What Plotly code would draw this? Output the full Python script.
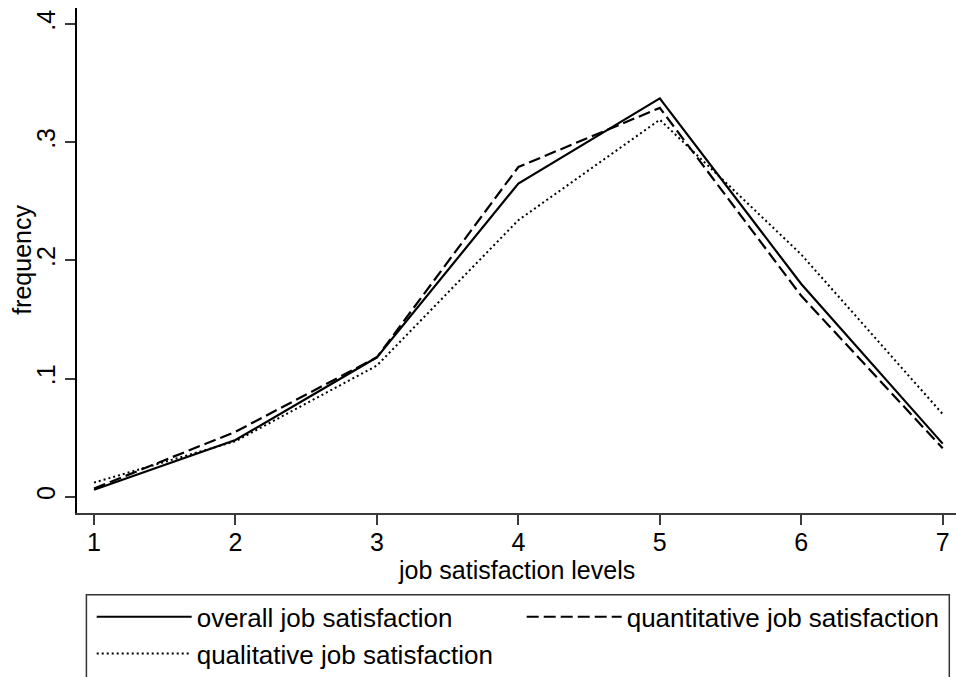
import plotly.graph_objects as go

levels = [1, 2, 3, 4, 5, 6, 7]
overall = [0.006, 0.048, 0.118, 0.265, 0.337, 0.180, 0.045]
quantitative = [0.007, 0.055, 0.118, 0.279, 0.329, 0.170, 0.041]
qualitative = [0.012, 0.047, 0.111, 0.234, 0.319, 0.205, 0.070]

series_names = ["overall job satisfaction", "quantitative job satisfaction",
                "qualitative job satisfaction"]
y_tickvals = [0, 0.1, 0.2, 0.3, 0.4]
y_ticktext = ["0", ".1", ".2", ".3", ".4"]
x_title = "job satisfaction levels"
y_title = "frequency"

W, H = 956, 677
L, R, T, B = 77.3, 0, 8, 164.3
pw = W - L - R
ph = H - T - B

def px2paper_x(p):
    return (p - L) / pw

def px2paper_y(q):
    return (H - B - q) / ph

font_family = "Liberation Sans, Arial, sans-serif"

fig = go.Figure()
fig.add_trace(go.Scatter(x=levels, y=overall, mode="lines", name=series_names[0],
                         line=dict(color="black", width=2.2)))
fig.add_trace(go.Scatter(x=levels, y=quantitative, mode="lines", name=series_names[1],
                         line=dict(color="black", width=2.2, dash="12px,5px")))
fig.add_trace(go.Scatter(x=levels, y=qualitative, mode="lines", name=series_names[2],
                         line=dict(color="black", width=2, dash="2px,3px")))

axis_color = "#3a3a3a"
fig.update_layout(
    width=W, height=H,
    margin=dict(l=L, r=R, t=T, b=B, autoexpand=False),
    paper_bgcolor="white", plot_bgcolor="white",
    font=dict(family=font_family, size=25, color="black"),
    showlegend=True,
    legend=dict(orientation="h", x=px2paper_x(92), y=px2paper_y(593),
                xanchor="left", yanchor="top", entrywidth=320, entrywidthmode="pixels",
                itemwidth=95, bgcolor="rgba(0,0,0,0)", borderwidth=0,
                font=dict(family=font_family, size=26, color="black"),
                tracegroupgap=0, itemclick=False),
    xaxis=dict(range=[0.8798, 7.094], tickvals=levels, ticks="outside", ticklen=10,
               tickwidth=1.5, tickcolor=axis_color, showline=True, linecolor=axis_color,
               linewidth=1.5, showgrid=False, zeroline=False, ticklabelstandoff=-4,
               tickfont=dict(size=25, family=font_family, color="black")),
    yaxis=dict(range=[-0.0137, 0.4135], tickvals=y_tickvals, ticktext=y_ticktext,
               ticks="outside", ticklen=10, tickwidth=1.5, tickcolor=axis_color,
               showline=True, linecolor="black", linewidth=1.5, showgrid=False,
               zeroline=False, tickangle=-90,
               tickfont=dict(size=25, family=font_family, color="black")),
    annotations=[
        dict(text=x_title, xref="paper", yref="paper",
             x=px2paper_x(516.5), y=px2paper_y(570), xanchor="center", yanchor="middle",
             showarrow=False, font=dict(size=25, family=font_family, color="black")),
        dict(text=y_title, xref="paper", yref="paper", textangle=-90,
             x=px2paper_x(22), y=px2paper_y(260), xanchor="center", yanchor="middle",
             showarrow=False, font=dict(size=25, family=font_family, color="black")),
    ],
    shapes=[dict(type="rect", xref="paper", yref="paper",
                 x0=px2paper_x(86.7), x1=px2paper_x(949.3),
                 y0=px2paper_y(594.3), y1=px2paper_y(720),
                 line=dict(color="#333333", width=1.5), fillcolor="rgba(0,0,0,0)")],
)

fig.write_html("out.html", config={"displayModeBar": False},
               post_script="document.body.style.margin='0';document.body.style.overflow='hidden';")
